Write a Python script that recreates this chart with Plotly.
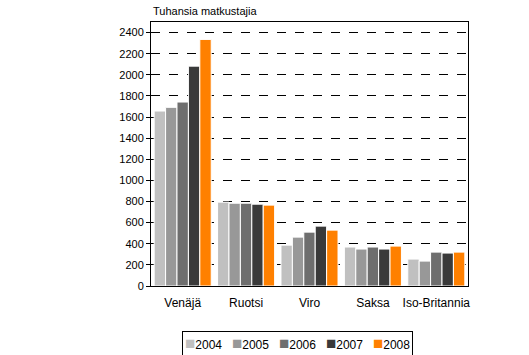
import plotly.graph_objects as go

categories = ["Venäjä", "Ruotsi", "Viro", "Saksa", "Iso-Britannia"]
years = ["2004", "2005", "2006", "2007", "2008"]
v2004 = [1657, 794, 387, 369, 255]
v2005 = [1692, 784, 463, 350, 236]
v2006 = [1742, 784, 510, 369, 321]
v2007 = [2082, 775, 567, 350, 312]
v2008 = [2335, 766, 529, 378, 321]
series = [v2004, v2005, v2006, v2007, v2008]
colors = ["#C0C0C0", "#989898", "#6E6E6E", "#3A3A3A", "#FF8000"]
tickvals = list(range(0, 2401, 200))

fig = go.Figure()
for name, vals, col in zip(years, series, colors):
    fig.add_trace(go.Bar(
        x=categories, y=vals, name=name,
        marker=dict(color=col, line=dict(color="white", width=1)),
        showlegend=False,
    ))

# compact legend built from the same years/colours lists
legend_text = "&nbsp;&nbsp;&nbsp;".join(
    f"<span style='color:{c};font-size:17px'>■</span>{y}" for y, c in zip(years, colors)
)

font = "Liberation Sans, Arial, sans-serif"
fig.update_layout(
    width=529, height=355,
    margin=dict(l=151, r=61, t=22, b=69, autoexpand=False),
    paper_bgcolor="white", plot_bgcolor="white",
    barmode="group", bargap=0.1, bargroupgap=0,
    font=dict(family=font, size=11, color="black"),
    xaxis=dict(showline=True, linecolor="black", linewidth=1, mirror=True,
               ticks="", showgrid=False, tickfont=dict(size=12), ticklabelstandoff=6),
    yaxis=dict(range=[0, 2500], tickvals=tickvals, showline=True, linecolor="black",
               linewidth=1, mirror=True, ticks="outside", ticklen=4, tickcolor="black",
               showgrid=True, gridcolor="black", griddash="dash", gridwidth=1,
               zeroline=False, tickfont=dict(size=11)),
    annotations=[
        dict(text="Tuhansia matkustajia", xref="paper", yref="paper",
             x=0, y=1, xanchor="left", yanchor="bottom", yshift=3,
             showarrow=False, font=dict(size=11)),
        dict(text=legend_text, xref="paper", yref="paper",
             x=0.4637, y=-0.218, xanchor="center", yanchor="middle",
             showarrow=False, font=dict(size=12), bordercolor="black",
             borderwidth=1, borderpad=2, bgcolor="white"),
    ],
)
fig.write_html("out.html", config={"displayModeBar": False})
with open("out.html", encoding="utf-8") as f:
    html = f.read()
html = html.replace("<body>", '<body style="margin:0">', 1)
with open("out.html", "w", encoding="utf-8") as f:
    f.write(html)
